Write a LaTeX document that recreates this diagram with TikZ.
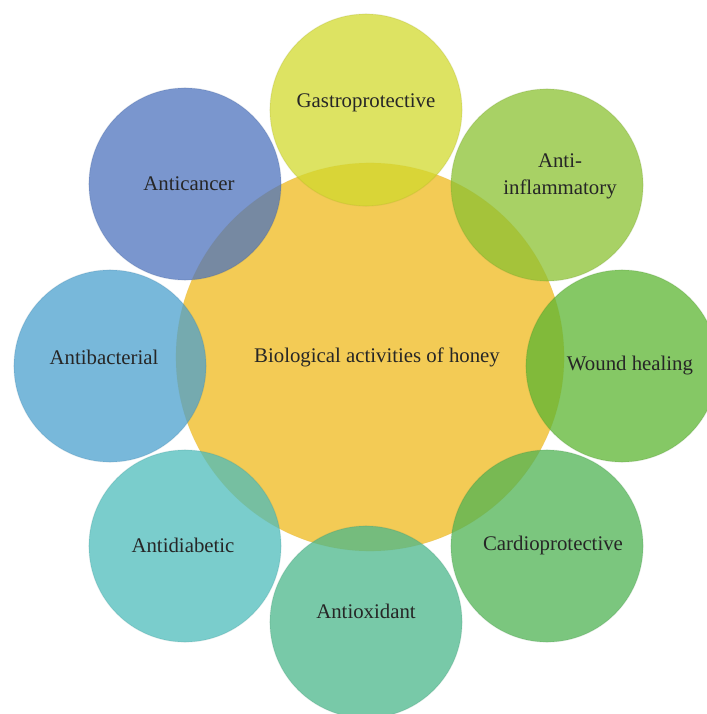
\documentclass[tikz,border=0pt]{standalone}
\usepackage{fontspec}
\setmainfont{Liberation Serif}
\usepackage{xcolor}
\usetikzlibrary{positioning}

\definecolor{honeyc}{RGB}{243,203,85}
\definecolor{gastroc}{RGB}{209,217,45}
\definecolor{inflamc}{RGB}{139,193,49}
\definecolor{woundc}{RGB}{92,181,49}
\definecolor{cardioc}{RGB}{79,179,83}
\definecolor{oxidc}{RGB}{75,183,139}
\definecolor{diabc}{RGB}{77,188,187}
\definecolor{bactc}{RGB}{75,160,206}
\definecolor{cancerc}{RGB}{77,115,189}

\begin{document}
\begin{tikzpicture}[x=0.025cm, y=-0.025cm,
    petal/.style={circle, fill=#1, fill opacity=0.75, draw=#1!70!black, draw opacity=0.15, line width=0.8pt, minimum size=4.8cm, inner sep=0pt},
    lbl/.style={font=\fontsize{14.8}{19}\selectfont, align=center, text=black!85}]
    \useasboundingbox (0,0) rectangle (707,714);

    \node (honey) [circle, fill=honeyc, draw=honeyc!80!black, draw opacity=0.15, minimum size=9.7cm, inner sep=0pt] at (370,357) {};

    \node (gastro) [petal=gastroc] at (366,110) {};
    \node (inflam) [petal=inflamc] at (547,185) {};
    \node (wound) [petal=woundc] at (622,366) {};
    \node (cardio) [petal=cardioc] at (547,546) {};
    \node (oxid) [petal=oxidc] at (366,622) {};
    \node (diab) [petal=diabc] at (185,546) {};
    \node (bact) [petal=bactc] at (110,366) {};
    \node (cancer) [petal=cancerc] at (185,184) {};

    \node (honeyl) [lbl] at (377,357) {Biological activities of honey};
    \node (gastrol) [lbl] at (366,103) {Gastroprotective};
    \node (inflaml) [lbl] at (560,176) {Anti-\\inflammatory};
    \node (woundl) [lbl] at (630,366) {Wound healing};
    \node (cardiol) [lbl] at (553,545) {Cardioprotective};
    \node (oxidl) [lbl] at (366,611) {Antioxidant};
    \node (diabl) [lbl] at (183,545) {Antidiabetic};
    \node (bactl) [lbl] at (104,357) {Antibacterial};
    \node (cancerl) [lbl] at (189,184) {Anticancer};
\end{tikzpicture}
\end{document}
